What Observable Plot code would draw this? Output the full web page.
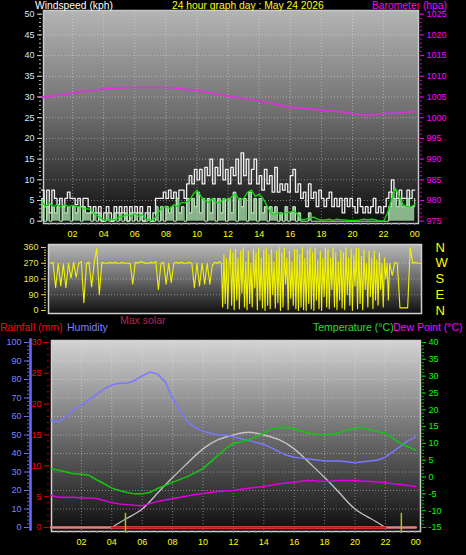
<!DOCTYPE html>
<html><head><meta charset="utf-8">
<script src="https://cdn.jsdelivr.net/npm/d3@7"></script>
<script src="https://cdn.jsdelivr.net/npm/@observablehq/plot@0.6"></script>
<style>
html,body{margin:0;padding:0;background:#000;}
#chart{position:relative;width:466px;height:555px;background:#000;overflow:hidden;font-family:"Liberation Sans",Arial,sans-serif;}
.lbl{position:absolute;white-space:nowrap;font-size:10.5px;line-height:12px;}
.ttl{font-size:10.3px;line-height:11px;}
</style></head>
<body><div id="chart"></div>
<script>
// ---------- data ----------
const hourTicks = [2,4,6,8,10,12,14,16,18,20,22,24];
const hourLabels = ["02","04","06","08","10","12","14","16","18","20","22","00"];

// wind gust (kph), every 10 minutes from 00:00
const gust = [
 7.5,3.5,7.5,2,7.5,5.5,  4,5.5,3.5,5.5,7,5.5,  5.5,4,5.5,3.5,5.5,5.5,  3.5,2,3.5,2,3.5,0,
 2,3.5,2,0,3.5,2,  3.5,2,3.5,0,3.5,2,  3.5,2,3.5,0,2,3.5,  0,2,5.5,5.5,5.5,7,
 5.5,7.5,5.5,7,5.5,7.5,  7.5,5.5,9,11,9,12.5,  10,12.5,9,13,11,15,  9,13,11,15,10,12.5,
 9,13,11,15,9,16.5,  11,15,9,12.5,15,9,  11,7.5,12.5,9,11,7,  13,7,9,7.5,9,7,
 11,12.5,7,9,5.5,7,  3.5,9,5.5,7,3.5,7.5,  5.5,3.5,5.5,7,3.5,5.5,  3.5,5.5,2,5.5,3.5,5.5,
 3.5,2,5.5,3.5,2,3.5,  2,3.5,5.5,2,3.5,2,  3.5,5.5,7,10,7.5,5.5,  7.5,5.5,5.5,7.5,5.5,7.5,
 7.5];
// wind speed (kph), every 10 minutes
const speed = [
 5.5,0,3.5,0,3.5,2,  3.5,0,3.5,2,3.5,0,  3.5,2,3.5,0,3.5,2,  2,0,2,0,2,0,
 0,2,0,0,2,0,  2,0,2,0,2,0,  2,0,2,0,0,2,  0,0,3.5,0,3.5,0,
 3.5,2,3.5,0,5.5,2,  3.5,0,5.5,2,5.5,3.5,  7,2,5.5,0,5.5,2,  5.5,0,5.5,2,5.5,0,
 5.5,2,7,0,5.5,3.5,  5.5,0,7,2,5.5,0,  5.5,2,3.5,0,3.5,2,  3.5,0,2,0,3.5,0,
 2,3.5,0,2,0,0,  0,2,0,0,0,0,  0,0,0,0,0,0,  0,0,0,0,0,0,
 0,0,0,0,0,0,  0,0,0,0,0,0,  0,0,3.5,7,5.5,3.5,  5.5,3.5,3.5,5.5,3.5,3.5,
 5.5];
// average wind speed (kph), every 15 minutes
const avgWind = [
 5,3.5,4.5,3.5,  4,3.5,4,3.5,  3.8,3.5,3.5,3,  3,2.5,1.5,1,
 0.3,0.3,0.5,0.3,  1,1.2,1.5,1.2,  1.8,1.2,1.5,0.5,  0.2,0.5,2,3.3,
 3.5,3,4,3.5,  4.5,4.5,5,6.5,  7.5,6,5,4.5,  5.5,4.5,4.5,5.5,
 5,6,6.5,5,  5.5,7,7.5,6,  6.5,5.5,3.7,2,  1.7,2,1.7,2,
 2.2,2.5,1.5,0.3,  0.5,0.8,1,0.5,  0.3,0.3,0.5,0.2,  0.5,0.3,0.3,0.2,
 0.2,0.2,0.3,0.5,  0.3,0.5,0.3,0,  0,2,5,8,  6,4,3.5,3.5,
 4];
// barometer (hPa), hourly
const baro = [1004.9,1005.4,1006,1006.5,1007,1007.2,1007.3,1007.3,1007.3,1007,1006.6,1005.9,
 1005.2,1004.7,1004.1,1003.3,1002.5,1002.2,1001.9,1001.5,1001,1000.5,1001,1001.2,1001.5];
// wind direction (deg): 10-min 00:00-10:50, 5-min 11:00-21:55, 10-min 22:00-24:00
const windDirAM = [
 270,275,130,270,140,265,  130,270,185,275,190,270,  280,45,270,275,135,270,  355,90,275,270,270,275,
 270,275,270,270,275,270,  270,270,150,275,270,280,  275,270,270,275,270,280,  120,270,275,150,270,160,
 270,275,270,275,270,270,  275,270,130,270,140,270,  150,270,150,260,275,270];
const windDirPM = [
 280,270,20,320,40,300,10,270,350,30,330,5,
 350,60,300,10,340,100,360,20,280,5,340,40,
 270,20,350,130,330,5,360,60,300,15,345,0,
 360,30,320,10,350,90,280,15,340,45,360,0,
 330,20,355,150,300,5,340,70,280,30,350,10,
 350,0,320,20,360,5,300,0,345,40,360,10,
 330,0,355,60,290,10,340,0,300,80,360,20,
 350,10,300,120,360,20,330,5,280,60,345,15,
 330,5,360,90,300,30,350,0,320,140,355,10,
 355,40,310,5,345,120,270,20,340,80,300,10,
 340,60,290,30,330,120,270,20,300,180,270,60];
const windDirLate = [270,200,275,270,15,15, 15,15,360,270,275,270, 270];
const dirTicks = [0,90,180,270,360];
const compass = ["N","E","S","W","N"];
// humidity (%), temperature and dew point (°C), every 30 minutes
const humidity = [58,57,60,64,66,69,72,75,77,78,78,79.5,82,84,83,79,70,63,57,54,52,51,50,50,
 49,48,47,46,45,43,41,39,38,37.5,37,36.5,36,36,36,35.5,35,35.5,36,36.5,38,41,44,47,49];
const temperature = [2.5,2,1.5,1,0.8,0.5,-0.8,-2,-3.3,-4,-4.6,-5,-5,-4.6,-3.4,-2.5,-1.6,-0.7,0.2,1.3,2.5,4.5,6.5,8.5,
 10,10.5,11,12,13,14.2,14.7,14.7,14.4,13.6,13,12.8,12.6,12.8,13.2,14,14.4,14.7,14,13.5,13,11.5,10,9,8];
const dewPoint = [-5.5,-6,-6,-6,-6.2,-6.2,-6.4,-7,-7.6,-8,-8.2,-8.4,-8.5,-7.9,-7.3,-6.8,-6.4,-6,-5.6,-5.2,-4.9,-4.6,-4.3,-4.1,
 -4,-3.6,-3.3,-3,-2.8,-2.4,-2,-1.8,-1.6,-1.2,-1,-1.2,-1.3,-1.2,-1,-1,-1,-1.2,-1.3,-1.5,-1.7,-2,-2.2,-2.5,-2.8];
// theoretical max solar (W/m²), hourly from 04 to 22
const solarHours = [4,5,6,7,8,9,10,11,12,13,14,15,16,17,18,19,20,21,22];
const maxSolar = [0,50,100,185,270,350,425,475,500,515,500,475,425,350,270,185,100,50,0];
// rainfall (mm) and solar (actual) zero lines, markers
const rainHours = [0,24];
const rainfall = [0,0];
const solarActHours = [4,22];
const solarActual = [0,0];
const markerHours = [4.9,23.05];

// ---------- helpers ----------
const chart = document.getElementById("chart");
const FONT = "'Liberation Sans', Arial, sans-serif";
const ns = "http://www.w3.org/2000/svg";
(function defs(){
  const s = document.createElementNS(ns,"svg");
  s.setAttribute("width","0"); s.setAttribute("height","0");
  s.style.position="absolute";
  const d = document.createElementNS(ns,"defs");
  const grads = {
    gTop:[[0,"#b4b4b4"],[0.5,"#6c6c6c"],[1,"#0c0c0c"]],
    gMid:[[0,"#b8b8b8"],[0.5,"#6a6a6a"],[1,"#101010"]],
    gBot:[[0,"#d4d4d4"],[0.5,"#6c6c6c"],[1,"#0e0e0e"]]
  };
  for (const [id, stops] of Object.entries(grads)) {
    const g = document.createElementNS(ns,"linearGradient");
    g.setAttribute("id",id); g.setAttribute("x1","0"); g.setAttribute("y1","0"); g.setAttribute("x2","0"); g.setAttribute("y2","1");
    for (const [o,c] of stops) { const st = document.createElementNS(ns,"stop"); st.setAttribute("offset",o); st.setAttribute("stop-color",c); g.appendChild(st); }
    d.appendChild(g);
  }
  s.appendChild(d); chart.appendChild(s);
})();
function mk(opts) {
  const svg = Plot.plot({width:466, height:555,
    style:{background:"transparent", fontFamily:FONT, fontSize:"9px", overflow:"visible"}, ...opts});
  svg.style.position="absolute"; svg.style.left="0px"; svg.style.top="0px";
  chart.appendChild(svg);
  return svg;
}
function label(text, left, top, color, cls) {
  const d = document.createElement("div");
  d.className="lbl" + (cls ? " " + cls : ""); d.textContent=text; d.style.left=left+"px"; d.style.top=top+"px"; d.style.color=color;
  chart.appendChild(d);
}
const dotted = {stroke:"#e8e8e8", strokeOpacity:0.45, strokeDasharray:"1,2"};
const fmtHour = d => hourLabels[hourTicks.indexOf(d)];
const plain = d => String(d);
const halfHours = d3.range(0.5, 24.01, 0.5);

const gustData = gust.map((v,i)=>({t:i/6, v}));
const speedData = speed.map((v,i)=>({t:i/6, v}));
const avgData = avgWind.map((v,i)=>({t:i/4, v}));
const baroData = baro.map((v,i)=>({t:i, v}));
const dirData = [
  ...windDirAM.map((v,i)=>({t:i/6, v})),
  ...windDirPM.map((v,i)=>({t:11+i/12, v})),
  ...windDirLate.map((v,i)=>({t:22+i/6, v}))
];
const humData = humidity.map((v,i)=>({t:i/2, v}));
const tempData = temperature.map((v,i)=>({t:i/2, v}));
const dewData = dewPoint.map((v,i)=>({t:i/2, v}));
const solarData = solarHours.map((t,i)=>({t, v:maxSolar[i]}));
const rainData = rainHours.map((t,i)=>({t, v:rainfall[i]}));
const solActData = solarActHours.map((t,i)=>({t, v:solarActual[i]}));

// ---------- top panel: wind ----------
const topGeom = {marginLeft:43, marginRight:48, marginTop:10, marginBottom:332};
const xTop = {domain:[0,24], range:[41,414.2], axis:null, label:null};
mk({...topGeom, x:xTop, y:{domain:[0,50], range:[220.7,13.7], axis:null, label:null},
  marks:[
    Plot.frame({fill:"url(#gTop)", stroke:"#c8c8c8", strokeWidth:1.5}),
    Plot.ruleY(d3.range(5,50,5), dotted),
    Plot.ruleX(hourTicks.slice(0,-1), dotted),
    Plot.line(gustData, {x:"t", y:"v", stroke:"#f0f0f0", strokeWidth:1.3, curve:"step-after"}),
    Plot.areaY(speedData, {x:"t", y:"v", fill:"#a8dca8", fillOpacity:0.8, curve:"step-after"}),
    Plot.line(speedData, {x:"t", y:"v", stroke:"#c0f0c0", strokeWidth:1, curve:"step-after"}),
    Plot.line(avgData, {x:"t", y:"v", stroke:"#10dd10", strokeWidth:1.3}),
    Plot.axisY(d3.range(0,51,5), {tickSize:5, dx:-1, tickPadding:3, stroke:"#dddddd", fill:"#d4e4ff", tickFormat:plain, label:null}),
    Plot.axisY(d3.range(0,51,1), {tickSize:2, dx:-2, stroke:"#bbbbbb", fill:"none", label:null}),
    Plot.axisX(hourTicks, {tickSize:0, tickPadding:7, fill:"#ffff00", tickFormat:fmtHour, label:null}),
    Plot.axisX(halfHours, {tickSize:2, stroke:"#888888", fill:"none", label:null})
  ]});
mk({...topGeom, x:xTop, y:{domain:[975,1025], range:[220.7,13.7], axis:null, label:null},
  marks:[
    Plot.line(baroData, {x:"t", y:"v", stroke:"#e030e0", strokeWidth:1.6}),
    Plot.axisY(d3.range(975,1026,5), {anchor:"right", tickSize:4, dx:1, tickPadding:3, stroke:"#ff00ff", fill:"#ff00ff", tickFormat:plain, label:null}),
    Plot.axisY(d3.range(975,1026,1), {anchor:"right", tickSize:2, dx:1, stroke:"#cc00cc", fill:"none", label:null})
  ]});

// ---------- middle panel: wind direction ----------
mk({marginLeft:48, marginRight:45, marginTop:244, marginBottom:242,
  x:{domain:[0,24], range:[50,420], axis:null, label:null},
  y:{domain:[0,360], range:[310,247], axis:null, label:null},
  marks:[
    Plot.frame({fill:"url(#gMid)", stroke:"#d0d0d0", strokeWidth:1.5}),
    Plot.ruleY([90,180,270], dotted),
    Plot.line(dirData, {x:"t", y:"v", stroke:"#f2f200", strokeWidth:1.1}),
    Plot.axisY(dirTicks, {tickSize:5, dx:-2, tickPadding:3, stroke:"#e0e020", fill:"#e4e450", tickFormat:plain, label:null}),
    Plot.axisY(d3.range(0,361,15), {tickSize:2, dx:-2, stroke:"#c0c020", fill:"none", label:null}),
    Plot.axisY(dirTicks, {anchor:"right", tickSize:0, tickPadding:14, fill:"#ffff00", fontSize:13, tickFormat:d=>compass[dirTicks.indexOf(d)], label:null})
  ]});

// ---------- bottom panel ----------
const botGeom = {marginLeft:51, marginRight:46, marginTop:340, marginBottom:24};
const xBot = {domain:[0,24], range:[50.5,415.3], axis:null, label:null};
mk({...botGeom, x:xBot, y:{domain:[0,100], range:[527,342], axis:null, label:null},
  marks:[
    Plot.frame({fill:"url(#gBot)", stroke:"#d0d0d0", strokeWidth:1.5}),
    Plot.ruleY(d3.range(10,100,10), dotted),
    Plot.ruleX(hourTicks.slice(0,-1), dotted),
    Plot.axisX(hourTicks, {tickSize:0, tickPadding:7, fill:"#ffff00", tickFormat:fmtHour, label:null}),
    Plot.axisX(halfHours, {tickSize:2, stroke:"#888888", fill:"none", label:null})
  ]});
// max solar
mk({...botGeom, x:xBot, y:{domain:[0,1000], range:[527,342], axis:null, label:null},
  marks:[Plot.line(solarData, {x:"t", y:"v", stroke:"#c4c4c4", strokeWidth:1.3, curve:"natural"})]});
// rainfall
mk({...botGeom, x:xBot, y:{domain:[0,30], range:[527,342], axis:null, label:null},
  marks:[
    Plot.line(rainData, {x:"t", y:"v", stroke:"#e88080", strokeWidth:2.5}),
    Plot.line(solActData, {x:"t", y:"v", stroke:"#ff0000", strokeWidth:2}),
    Plot.ruleX(markerHours, {y1:-0.9, y2:2.3, stroke:"#b8b820", strokeWidth:1.5}),
    Plot.axisY(d3.range(0,31,5), {tickSize:5, dx:-2, tickPadding:3, stroke:"#dd0000", fill:"#ff0000", tickFormat:plain, label:null}),
    Plot.axisY(d3.range(0,31,1), {tickSize:2, dx:-2, stroke:"#aa0000", fill:"none", label:null})
  ]});
// humidity axis (offset to the left)
mk({marginLeft:30, marginRight:46, marginTop:340, marginBottom:24,
  x:{domain:[0,1], range:[30,420], axis:null, label:null},
  y:{domain:[0,100], range:[527,342], axis:null, label:null},
  marks:[
    Plot.ruleX([0], {y1:-2, y2:102, stroke:"#6b6bff", strokeWidth:2.5}),
    Plot.axisY(d3.range(0,101,10), {tickSize:5, dx:-1, tickPadding:3, stroke:"#7070ff", fill:"#8080ff", tickFormat:plain, label:null}),
    Plot.axisY(d3.range(0,101,2), {tickSize:2, dx:-1, stroke:"#6060e0", fill:"none", label:null})
  ]});
// humidity line
mk({...botGeom, x:xBot, y:{domain:[0,100], range:[527,342], axis:null, label:null},
  marks:[Plot.line(humData, {x:"t", y:"v", stroke:"#7878ff", strokeWidth:1.5})]});
// temperature & dew point
mk({...botGeom, x:xBot, y:{domain:[-15,40], range:[527,342], axis:null, label:null},
  marks:[
    Plot.line(dewData, {x:"t", y:"v", stroke:"#e000e0", strokeWidth:1.5}),
    Plot.line(tempData, {x:"t", y:"v", stroke:"#10c810", strokeWidth:1.5}),
    Plot.axisY(d3.range(-15,41,5), {anchor:"right", tickSize:4, dx:1, tickPadding:3, stroke:"#00dd00", fill:"#00ff00", tickFormat:plain, label:null}),
    Plot.axisY(d3.range(-15,41,1), {anchor:"right", tickSize:2, dx:1, stroke:"#00bb00", fill:"none", label:null})
  ]});

// ---------- titles ----------
label("Windspeed (kph)", 35, 0, "#ffffff", "ttl");
label("24 hour graph day : May 24 2026", 172, 0, "#ffff00", "ttl");
label("Barometer (hpa)", 372, 0, "#ff00ff", "ttl");
label("Max solar", 120, 314, "#c02050");
label("Rainfall (mm)", 0, 321, "#ff0000");
label("Humidity", 67, 321, "#8080ff");
label("Temperature (°C)", 313, 321, "#22e022");
label("Dew Point (°C)", 393, 321, "#ff00ff");
</script></body></html>
